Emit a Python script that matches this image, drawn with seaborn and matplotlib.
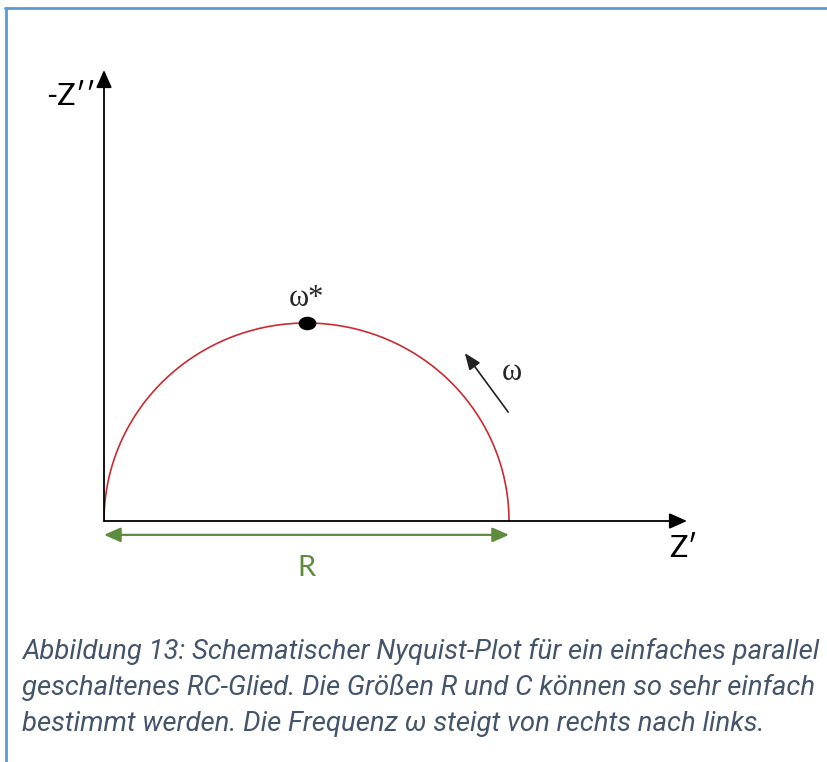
import numpy as np
import pandas as pd
import matplotlib
matplotlib.use("Agg")
import matplotlib.pyplot as plt
from matplotlib.lines import Line2D
from matplotlib.path import Path
from matplotlib.transforms import Affine2D
import seaborn as sns

# Parallel RC element (normalised units)
R = 1.0
C = 1.0
omega = np.logspace(-4, 4, 800)           # angular frequency sweep
omega_star = 1.0 / (R * C)                # apex frequency

# Axis / annotation texts
x_label = "Z\u2032"
y_label = "-Z\u2032\u2032"
r_label = "R"
omega_label = "\u03c9"
omega_star_label = "\u03c9*"
caption_lines = [
    "Abbildung 13: Schematischer Nyquist-Plot für ein einfaches parallel",
    "geschaltenes RC-Glied. Die Größen R und C können so sehr einfach",
    "bestimmt werden. Die Frequenz \u03c9 steigt von rechts nach links.",
]

Z = R / (1 + 1j * omega * R * C)
df = pd.DataFrame({"Zre": Z.real, "Zim": -Z.imag, "omega": omega})
Zs = R / (1 + 1j * omega_star * R * C)
apex = pd.DataFrame({"Zre": [Zs.real], "Zim": [-Zs.imag]})

sns.set_style("white")
plt.rcParams["font.family"] = ["Lato", "DejaVu Sans"]

W, H = 827, 762
fig = plt.figure(figsize=(W / 100, H / 100), dpi=100)

# pixel geometry of the plotting frame
x0_px, y0_px = 104, 521
px_per_unit_x, px_per_unit_y = 405, 396
x_end_px, y_end_px = 687, 70
ax = fig.add_axes([x0_px / W, (H - y0_px) / H,
                   (x_end_px - x0_px) / W, (y0_px - y_end_px) / H])
ax.set_xlim(0, (x_end_px - x0_px) / px_per_unit_x)
ax.set_ylim(0, (y0_px - y_end_px) / px_per_unit_y)
ax.set_axis_off()

sns.lineplot(data=df, x="Zre", y="Zim", sort=False, color="#CC2A33",
             linewidth=1.2, ax=ax, legend=False)
# slightly flattened dot marking the apex
oval = Path.unit_circle().transformed(Affine2D().scale(1.35, 1.0))
sns.scatterplot(data=apex, x="Zre", y="Zim", color="black", s=140,
                marker=oval, edgecolor="black", ax=ax, zorder=5, legend=False)
ax.set_xlabel("")
ax.set_ylabel("")

# coordinate axes as arrows
axis_arrow = dict(arrowstyle="-|>,head_length=0.45,head_width=0.2",
                  color="black", lw=1.3, mutation_scale=24,
                  shrinkA=0, shrinkB=0)
ax.annotate("", xy=(1, 0), xytext=(0, 0), xycoords="axes fraction",
            arrowprops=axis_arrow, annotation_clip=False)
ax.annotate("", xy=(0, 1), xytext=(0, 0), xycoords="axes fraction",
            arrowprops=axis_arrow, annotation_clip=False)

ax.text(-0.02, 1.073, y_label, fontsize=22, ha="right", va="center",
        color="black")
ax.text(1.430, -0.068, x_label, fontsize=22, ha="center", va="center",
        color="black")

# resistance span R
green = "#5E8C3E"
ax.annotate("", xy=(R, -0.035), xytext=(0.0, -0.035),
            arrowprops=dict(arrowstyle="<|-|>,head_length=0.5,head_width=0.22",
                            color=green, lw=1.6, mutation_scale=20,
                            shrinkA=0, shrinkB=0),
            annotation_clip=False)
ax.text(R / 2, -0.119, r_label, fontsize=21, ha="center", va="center",
        color=green, clip_on=False)

# apex frequency and frequency direction
ax.text(Zs.real, -Zs.imag + 0.062, omega_star_label, fontsize=22,
        family=["Liberation Serif", "DejaVu Serif"], ha="center",
        va="center")
ax.annotate("", xy=(0.891, 0.424), xytext=(0.998, 0.275),
            arrowprops=dict(arrowstyle="-|>,head_length=0.5,head_width=0.2",
                            color="#222222", lw=1.2, mutation_scale=20,
                            shrinkA=0, shrinkB=0))
ax.text(1.007, 0.375, omega_label, fontsize=22,
        family=["Liberation Serif", "DejaVu Serif"], ha="center",
        va="center")

# page frame
frame = "#5B9BD5"
fig.add_artist(Line2D([5 / W, 1.0], [1 - 8 / H, 1 - 8 / H],
                      transform=fig.transFigure, color=frame, lw=2.0))
fig.add_artist(Line2D([6 / W, 6 / W], [0.0, 1 - 8 / H],
                      transform=fig.transFigure, color=frame, lw=2.0))

# caption, sized so the first line spans the text block
cap_color = "#44546A"
baselines = [659, 695, 731]
texts = [fig.text(22 / W, 1 - b / H, line, fontsize=17, style="italic",
                  family=["Roboto", "DejaVu Sans"],
                  color=cap_color, va="baseline", ha="left")
         for line, b in zip(caption_lines, baselines)]
fig.canvas.draw()
renderer = fig.canvas.get_renderer()
w0 = texts[0].get_window_extent(renderer).width
scale = 800 / w0
for t in texts:
    t.set_fontsize(17 * scale)

fig.savefig("out.png", dpi=100)
